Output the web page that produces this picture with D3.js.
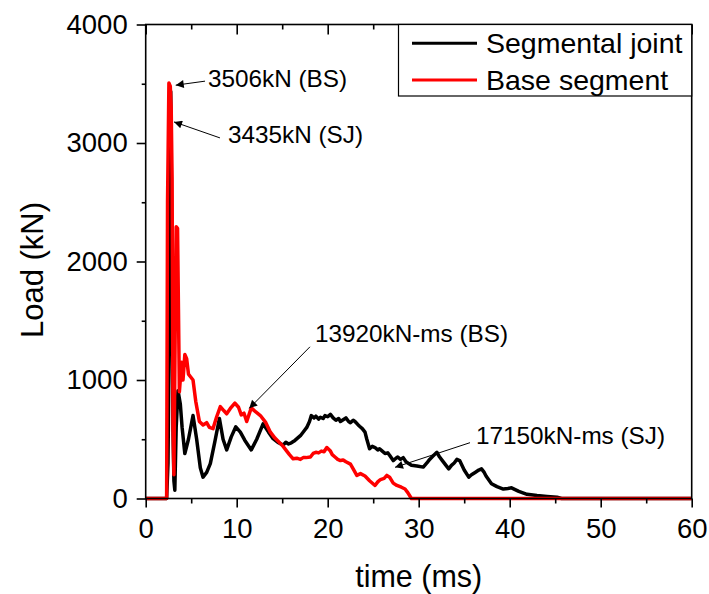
<!DOCTYPE html>
<html>
<head>
<meta charset="utf-8">
<script src="https://cdn.jsdelivr.net/npm/d3@7"></script>
<style>
body{margin:0;background:#fff;}
svg text{font-family:"Liberation Sans",Arial,sans-serif;fill:#000;}
</style>
</head>
<body>
<div id="chart"></div>
<script>
// time (ms) / load (kN)
const jointData = [[0,0],[2.3,0],[2.45,300],[2.6,1500],[2.75,3435],[2.85,2400],[3.0,600],[3.1,150],[3.2,70],[3.35,600],[3.55,910],[3.8,800],[4.0,600],[4.3,380],[4.7,500],[5.2,700],[5.6,500],[6.0,260],[6.3,180],[6.7,220],[7.1,295],[7.6,480],[8.1,675],[8.5,500],[8.9,410],[9.4,520],[9.9,605],[10.4,560],[10.9,490],[11.6,410],[12.2,500],[12.9,630],[13.5,560],[14.0,505],[14.6,470],[15.1,450],[15.4,475],[15.7,460],[16.0,470],[16.4,490],[17.0,530],[17.4,570],[17.7,600],[18.0,650],[18.2,700],[18.5,680],[18.7,695],[19.0,670],[19.2,685],[19.5,675],[19.7,700],[20.0,690],[20.3,710],[20.6,680],[20.9,660],[21.2,675],[21.4,650],[21.7,665],[22.0,680],[22.3,650],[22.5,640],[22.8,660],[23.0,650],[23.3,625],[23.5,610],[23.8,590],[24.1,560],[24.3,500],[24.6,420],[24.9,440],[25.2,430],[25.5,410],[25.7,420],[26.0,400],[26.3,380],[26.6,385],[26.8,365],[27.2,320],[27.5,340],[27.7,350],[28.0,330],[28.3,345],[28.6,310],[28.8,300],[29.2,280],[29.8,275],[30.5,265],[30.9,300],[31.2,330],[31.6,360],[32.0,390],[32.3,350],[32.6,320],[33.0,280],[33.3,250],[33.6,280],[33.9,300],[34.2,330],[34.5,320],[35.0,240],[35.5,180],[35.8,200],[36.2,220],[36.6,240],[36.9,250],[37.2,220],[37.4,190],[38.0,125],[38.6,100],[39.3,80],[39.8,85],[40.2,90],[40.6,75],[41.0,60],[41.9,35],[43.0,25],[44.1,17],[45.2,10],[45.7,0],[60,0]];

const baseData = [[0,0],[2.3,0],[2.4,2500],[2.55,3506],[2.7,3480],[2.8,3300],[2.9,2700],[3.0,600],[3.1,200],[3.25,1500],[3.35,2293],[3.5,2280],[3.6,1600],[3.7,900],[3.8,1000],[3.95,1150],[4.1,1000],[4.3,1215],[4.5,1180],[4.7,1050],[4.9,1030],[5.2,1000],[5.5,820],[5.9,650],[6.3,620],[6.7,640],[7.0,600],[7.4,590],[7.8,690],[8.2,775],[8.6,740],[8.9,715],[9.3,760],[9.8,805],[10.2,770],[10.5,705],[10.8,720],[11.1,650],[11.6,765],[12.1,730],[12.6,700],[13.2,640],[13.7,560],[14.2,510],[14.8,465],[15.1,440],[15.5,400],[15.8,370],[16.2,335],[16.6,340],[17.0,330],[17.3,345],[17.6,345],[18.1,350],[18.4,380],[18.7,390],[19.0,385],[19.3,400],[19.6,395],[19.9,430],[20.3,400],[20.5,370],[20.8,350],[21.1,330],[21.4,320],[21.7,325],[22.0,310],[22.5,290],[22.8,250],[23.2,195],[23.6,210],[24.1,190],[24.6,150],[25.2,110],[25.5,140],[25.8,160],[26.2,170],[26.5,195],[26.8,180],[27.2,130],[27.6,110],[28.1,95],[28.5,80],[28.8,50],[29.2,0],[60,0]];

const seriesNames = ["Segmental joint", "Base segment"];
const seriesColors = ["#000000", "#ff0000"];

const xMajor = [0,10,20,30,40,50,60];
const xMinor = [5,15,25,35,45,55];
const yMajor = [0,1000,2000,3000,4000];
const yMinor = [500,1500,2500,3500];

// label, text anchor point, arrow start, arrow tip (data units)
const notes = [
  {label:"3506kN (BS)", tx:6.84, ty:3471, x1:6.52, y1:3522, x2:3.30, y2:3488},
  {label:"3435kN (SJ)", tx:9.04, ty:2999, x1:8.16, y1:3043, x2:3.11, y2:3178},
  {label:"13920kN-ms (BS)", tx:18.6, ty:1320, x1:18.05, y1:1280, x2:11.38, y2:761},
  {label:"17150kN-ms (SJ)", tx:36.3, ty:460, x1:35.64, y1:471, x2:27.4, y2:263}
];

const W = 709, H = 594;
const margin = {top:24.5, right:17.3, bottom:95.5, left:145.7};
const w = W - margin.left - margin.right;
const h = H - margin.top - margin.bottom;

const svg = d3.select("#chart").append("svg")
  .attr("width", W).attr("height", H);

const defs = svg.append("defs");
defs.append("marker")
  .attr("id","arr")
  .attr("viewBox","0 0 10 10")
  .attr("refX",10).attr("refY",5)
  .attr("markerWidth",11).attr("markerHeight",8)
  .attr("markerUnits","userSpaceOnUse")
  .attr("orient","auto")
  .append("path").attr("d","M0,0L10,5L0,10Z").attr("fill","#000");

const g = svg.append("g").attr("transform",`translate(${margin.left},${margin.top})`);

const x = d3.scaleLinear().domain([0,60]).range([0,w]);
const y = d3.scaleLinear().domain([0,4000]).range([h,0]);

const line = d3.line().x(d => x(d[0])).y(d => y(d[1]));

[jointData, baseData].forEach((data, i) => {
  g.append("path")
    .datum(data)
    .attr("d", line)
    .attr("fill","none")
    .attr("stroke", seriesColors[i])
    .attr("stroke-width", 3.5)
    .attr("stroke-linejoin","round");
});

// frame
g.append("rect").attr("x",0).attr("y",0).attr("width",w).attr("height",h)
  .attr("fill","none").attr("stroke","#000").attr("stroke-width",1.6);

function styleAxis(sel){
  sel.select(".domain").remove();
  sel.selectAll(".tick line").attr("stroke","#000").attr("stroke-width",1.6);
  sel.selectAll("text").style("font-size","27.5px").attr("fill","#000");
}

g.append("g").attr("transform",`translate(0,${h})`)
  .call(d3.axisBottom(x).tickValues(xMajor).tickSize(9).tickPadding(10.5).tickFormat(d3.format("d")))
  .call(styleAxis);
g.append("g").attr("transform",`translate(0,${h})`)
  .call(d3.axisBottom(x).tickValues(xMinor).tickSize(5).tickFormat(""))
  .call(styleAxis);
g.append("g")
  .call(d3.axisTop(x).tickValues(xMajor).tickSize(-10).tickFormat(""))
  .call(styleAxis);
g.append("g")
  .call(d3.axisTop(x).tickValues(xMinor).tickSize(-5).tickFormat(""))
  .call(styleAxis);
g.append("g")
  .call(d3.axisLeft(y).tickValues(yMajor).tickSize(9).tickPadding(9).tickFormat(d3.format("d")))
  .call(styleAxis);
g.append("g")
  .call(d3.axisLeft(y).tickValues(yMinor).tickSize(4).tickFormat(""))
  .call(styleAxis);

// axis titles
svg.append("text")
  .attr("x", margin.left + w/2).attr("y", 587)
  .attr("text-anchor","middle").style("font-size","30.5px")
  .text("time (ms)");
svg.append("text")
  .attr("transform","translate(43,270) rotate(-90)")
  .attr("text-anchor","middle").style("font-size","31px")
  .text("Load (kN)");

// annotations
const ann = g.append("g");
notes.forEach(n => {
  ann.append("line")
    .attr("x1", x(n.x1)).attr("y1", y(n.y1))
    .attr("x2", x(n.x2)).attr("y2", y(n.y2))
    .attr("stroke","#000").attr("stroke-width",1)
    .attr("marker-end","url(#arr)");
  ann.append("text")
    .attr("x", x(n.tx)).attr("y", y(n.ty))
    .style("font-size","24.3px")
    .text(n.label);
});

// legend
const leg = g.append("g").attr("transform",`translate(${w-293.2},0)`);
leg.append("rect").attr("x",0).attr("y",0).attr("width",293.2).attr("height",71.5)
  .attr("fill","#fff").attr("stroke","#000").attr("stroke-width",1.2);
seriesNames.forEach((name, i) => {
  const yy = 18.8 + i*36.7;
  leg.append("line").attr("x1",13.5).attr("x2",78.5).attr("y1",yy).attr("y2",yy)
    .attr("stroke",seriesColors[i]).attr("stroke-width",3);
  leg.append("text").attr("x",87.5).attr("y",yy+9.6)
    .style("font-size","28.5px").text(name);
});
</script>
</body>
</html>
